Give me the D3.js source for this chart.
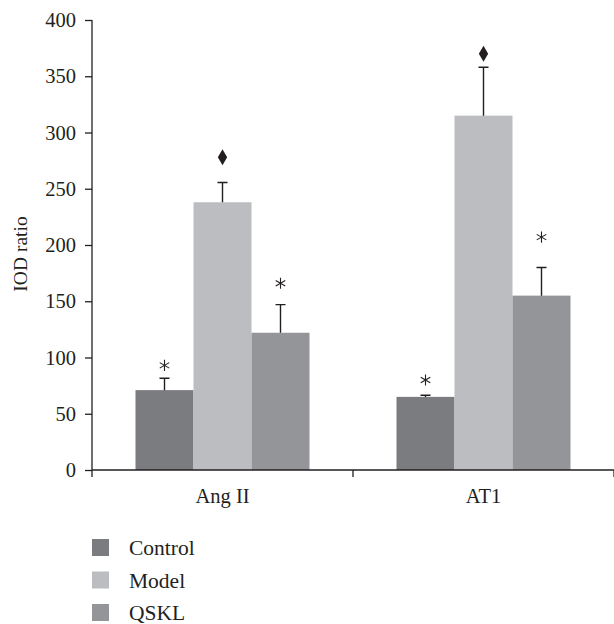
<!DOCTYPE html>
<html>
<head>
<meta charset="utf-8">
<script src="https://cdn.jsdelivr.net/npm/d3@7"></script>
<style>
  body { margin: 0; background: #fff; }
  text { font-family: "Liberation Serif", "DejaVu Serif", serif; fill: #231f20; }
</style>
</head>
<body>
<div id="chart"></div>
<script>
// values
var categories = ["Ang II", "AT1"];
var series = ["Control", "Model", "QSKL"];
var colors = ["#7b7c80", "#bcbdc1", "#949599"];
var means = [[71, 238, 122], [65, 315, 155]];
var errors = [[10.5, 17.5, 25], [1.5, 43, 25]];
// significance marks: symbol and the level (in IOD units) where it sits
var marks = [["*", "d", "*"], ["*", "d", "*"]];
var markLevels = [[93, 278, 166], [80, 370, 207]];
var yTicks = [0, 50, 100, 150, 200, 250, 300, 350, 400];

var margin = { top: 20, right: 0, bottom: 154, left: 92 },
    width = 614 - margin.left - margin.right,
    height = 624 - margin.top - margin.bottom;

var svg = d3.select("#chart")
    .append("svg")
    .attr("width", 614)
    .attr("height", 624);

var g = svg.append("g")
    .attr("transform", "translate(" + margin.left + "," + margin.top + ")");

var x0 = d3.scaleBand().domain(categories).range([0, width]).padding(0);
var x1 = d3.scaleBand().domain(series).range([0, x0.bandwidth()])
    .paddingInner(0).paddingOuter(0.75);
var y = d3.scaleLinear().domain([0, 400]).range([height, 0]);
var color = d3.scaleOrdinal().domain(series).range(colors);

var rows = [];
categories.forEach((c, i) => {
    series.forEach((s, j) => {
        rows.push({
            cat: c, ser: s,
            mean: means[i][j], err: errors[i][j],
            mark: marks[i][j], level: markLevels[i][j]
        });
    });
});

// bars
g.selectAll(".bar")
    .data(rows)
    .enter()
    .append("rect")
    .attr("class", "bar")
    .attr("x", (d) => x0(d.cat) + x1(d.ser))
    .attr("y", (d) => y(d.mean))
    .attr("width", x1.bandwidth())
    .attr("height", (d) => height - y(d.mean))
    .attr("fill", (d) => color(d.ser));

// error bars (upper only)
var cx = (d) => x0(d.cat) + x1(d.ser) + x1.bandwidth() / 2;
g.selectAll(".err")
    .data(rows)
    .enter()
    .append("path")
    .attr("class", "err")
    .attr("fill", "none")
    .attr("stroke", "#231f20")
    .attr("stroke-width", 1.4)
    .attr("d", (d) => {
        var top = y(d.mean + d.err);
        return "M" + cx(d) + "," + y(d.mean) + "V" + top +
            "M" + (cx(d) - 5) + "," + top + "H" + (cx(d) + 5);
    });

// significance marks
g.selectAll(".mark")
    .data(rows)
    .enter()
    .append("path")
    .attr("class", "mark")
    .attr("transform", (d) => "translate(" + cx(d) + "," + y(d.level) + ")")
    .attr("d", (d) => d.mark == "*"
        ? d3.symbol(d3.symbolAsterisk, 85)()
        : d3.symbol(d3.symbolDiamond, 75)())
    .attr("fill", (d) => d.mark == "*" ? "none" : "#231f20")
    .attr("stroke", "#231f20")
    .attr("stroke-width", (d) => d.mark == "*" ? 1.1 : 0);

// y axis
var yAxis = g.append("g")
    .call(d3.axisLeft(y).tickValues(yTicks).tickSize(7).tickPadding(9));
yAxis.select(".domain").attr("stroke", "#231f20").attr("stroke-width", 1.3)
    .attr("d", "M0," + y(400) + "V" + height);
yAxis.selectAll(".tick line").attr("stroke", "#231f20").attr("stroke-width", 1.3);
yAxis.selectAll(".tick text")
    .style("font-family", "Liberation Serif, serif")
    .style("font-size", "20.5px")
    .attr("fill", "#231f20");

// x axis: baseline with ticks at the group boundaries
var bounds = categories.map((c) => x0(c)).concat([width]);
var xAxis = g.append("g").attr("transform", "translate(0," + height + ")");
xAxis.append("line")
    .attr("x1", 0).attr("x2", width)
    .attr("stroke", "#231f20").attr("stroke-width", 1.3);
xAxis.selectAll(".xtick")
    .data(bounds)
    .enter()
    .append("line")
    .attr("x1", (d) => d).attr("x2", (d) => d)
    .attr("y1", 0).attr("y2", 7)
    .attr("stroke", "#231f20").attr("stroke-width", 1.3);
xAxis.selectAll(".xlabel")
    .data(categories)
    .enter()
    .append("text")
    .attr("x", (d) => x0(d) + x0.bandwidth() / 2)
    .attr("y", 33)
    .attr("text-anchor", "middle")
    .style("font-size", "20.5px")
    .text((d) => d);

// y label
svg.append("text")
    .attr("transform", "translate(27," + (margin.top + height / 2 + 9) + ") rotate(-90)")
    .attr("text-anchor", "middle")
    .style("font-size", "19.5px")
    .text("IOD ratio");

// legend
var size = 17;
var legend = svg.selectAll(".legend")
    .data(series)
    .enter()
    .append("g")
    .attr("class", "legend")
    .attr("transform", (_, i) => "translate(92," + (539 + i * 32.5) + ")");
legend.append("rect")
    .attr("width", size)
    .attr("height", size)
    .attr("fill", (d) => color(d));
legend.append("text")
    .attr("x", 37)
    .attr("y", 16)
    .style("font-size", "21.5px")
    .text((d) => d);
</script>
</body>
</html>
